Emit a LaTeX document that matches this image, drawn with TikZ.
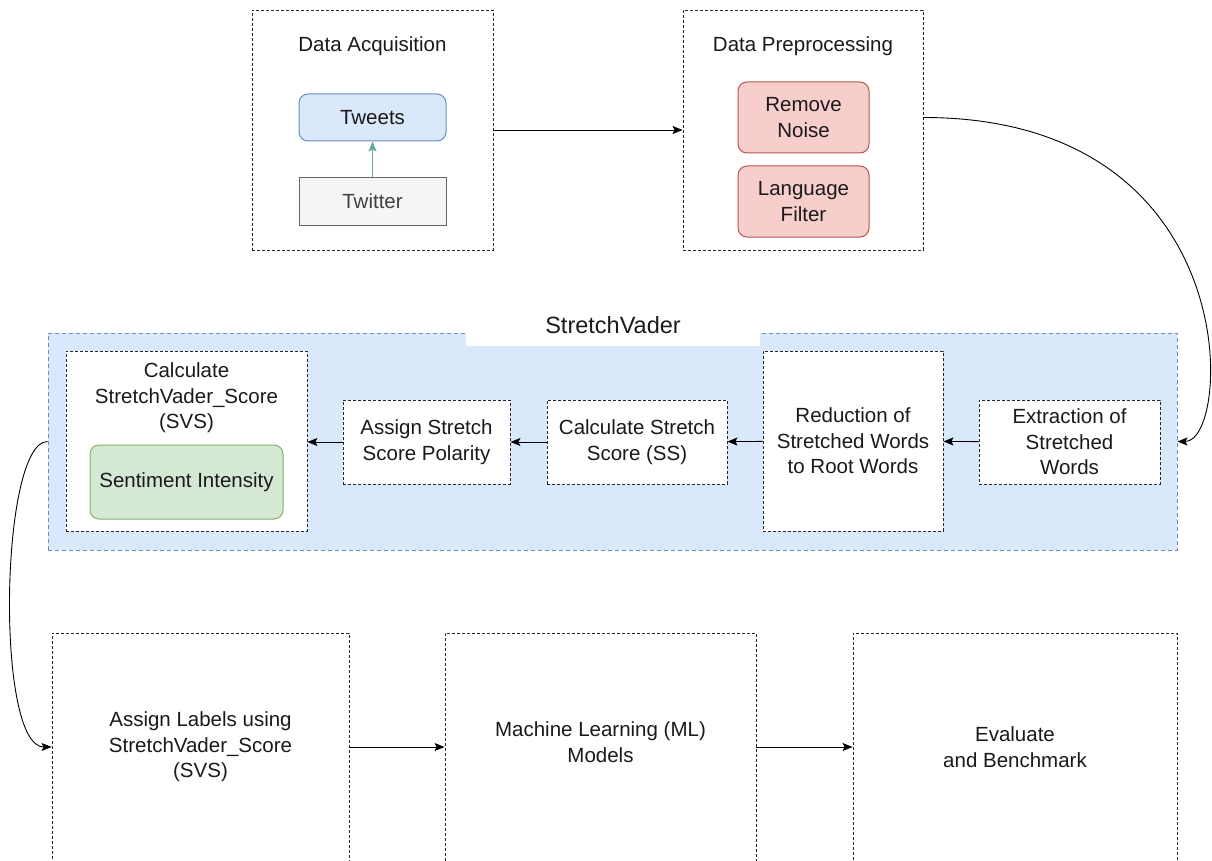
\documentclass[tikz,border=0pt]{standalone}
\usepackage{fontspec}
\setmainfont{Liberation Sans}
\usetikzlibrary{arrows.meta}

\definecolor{blueFill}{HTML}{DAE8FC}
\definecolor{blueLine}{HTML}{6C8EBF}
\definecolor{redFill}{HTML}{F8CECC}
\definecolor{redLine}{HTML}{B85450}
\definecolor{greenFill}{HTML}{D5E8D4}
\definecolor{greenLine}{HTML}{82B366}
\definecolor{greyFill}{HTML}{F5F5F5}
\definecolor{greyLine}{HTML}{666666}
\definecolor{tealLine}{HTML}{67AB9F}
\definecolor{inkColor}{HTML}{1A1A1A}

\tikzset{
  dbox/.style={draw=black!85, line width=0.9pt, dash pattern=on 3pt off 2pt, fill=white, align=center, text=inkColor},
  roundbox/.style={rounded corners=9pt, line width=1pt, align=center, text=inkColor},
  txt/.style={align=center, text=inkColor},
  arr/.style={-{Stealth[length=10pt,width=8pt,inset=2pt]}, line width=0.9pt, draw=black}
}

\begin{document}
\begin{tikzpicture}[x=1pt, y=-1pt, font=\fontsize{20.5}{25.5}\selectfont]
\useasboundingbox (0,0) rectangle (1212,861);
\clip (0,0) rectangle (1212,861);

% data acquisition
\node[dbox, minimum width=241pt, minimum height=240pt] (da) at (372.5,130) {};
\node[txt] (datitle) at (372.5,46) {Data Acquisition};
\node[roundbox, fill=blueFill, draw=blueLine, minimum width=147pt, minimum height=47pt] (tweets) at (372.5,117.5) {Tweets};
\node[txt, fill=greyFill, draw=greyLine, line width=1pt, minimum width=147pt, minimum height=47pt, text=black!75] (twitter) at (372.5,201.5) {Twitter};
\draw[arr, draw=tealLine, -{Stealth[length=10pt,width=8pt,inset=2pt,fill=tealLine]}] (twitter) -- (tweets);

% data preprocessing
\node[dbox, minimum width=240pt, minimum height=240pt] (dp) at (803,130) {};
\node[txt] (dptitle) at (803,46) {Data Preprocessing};
\node[roundbox, fill=redFill, draw=redLine, minimum width=131pt, minimum height=71pt] (rn) at (803.5,117.5) {Remove\\Noise};
\node[roundbox, fill=redFill, draw=redLine, minimum width=131pt, minimum height=71pt] (lf) at (803.5,201.5) {Language\\Filter};

% stretchvader
\node[draw=blueLine, fill=blueFill, line width=0.9pt, dash pattern=on 4pt off 3pt, minimum width=1129pt, minimum height=217pt] (sv) at (612.5,441.5) {};
\node[fill=white, minimum width=294pt, minimum height=42pt, text=inkColor, font=\fontsize{23.5}{28}\selectfont] (svtitle) at (613,325) {StretchVader};

\node[dbox, minimum width=241pt, minimum height=180pt] (svs) at (186.5,441) {};
\node[txt] (svstitle) at (186.5,398) {Calculate\\StretchVader\_Score\\(SVS)};
\node[roundbox, fill=greenFill, draw=greenLine, minimum width=193pt, minimum height=74pt] (si) at (186.5,482) {Sentiment Intensity};
\node[dbox, minimum width=167pt, minimum height=84pt] (asp) at (426.5,442) {Assign Stretch\\Score Polarity};
\node[dbox, minimum width=180pt, minimum height=84pt] (css) at (637,442) {Calculate Stretch\\Score (SS)};
\node[dbox, minimum width=180pt, minimum height=180pt] (red) at (853,441) {Reduction of\\Stretched Words\\to Root Words};
\node[dbox, minimum width=181pt, minimum height=84pt] (ext) at (1069.5,442) {Extraction of\\Stretched\\Words};

% bottom row
\node[dbox, minimum width=297pt, minimum height=228pt] (al) at (200.5,747) {Assign Labels using\\StretchVader\_Score\\(SVS)};
\node[dbox, minimum width=311pt, minimum height=228pt] (ml) at (600.5,747) {};
\node[txt] (mltext) at (600.5,742) {Machine Learning (ML)\\Models};
\node[dbox, minimum width=324pt, minimum height=228pt] (ev) at (1015,747) {Evaluate\\and Benchmark};

% connectors
\draw[arr] (da) -- (dp);
\draw[arr] (rn.east -| dp.east) .. controls (1248,117.5) and (1232,441.5) .. (sv.east);
\draw[arr] (ext) -- (red);
\draw[arr] (red) -- (css);
\draw[arr] (css) -- (asp);
\draw[arr] (asp) -- (svs.east |- asp.west);
\draw[arr] (sv.west) .. controls (0,441.5) and (-5,747) .. (al.west);
\draw[arr] (al) -- (ml);
\draw[arr] (ml) -- (ev);
\end{tikzpicture}
\end{document}
